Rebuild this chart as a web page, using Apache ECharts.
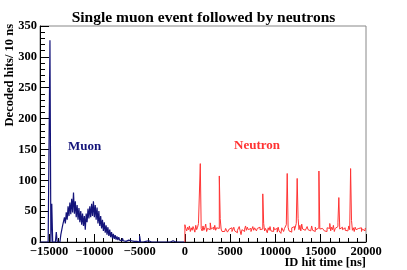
<!DOCTYPE html>
<html>
<head>
<meta charset="utf-8">
<script src="https://cdn.jsdelivr.net/npm/echarts@6/dist/echarts.min.js"></script>
<style>html,body{margin:0;padding:0;background:#fff}#c{width:407px;height:270px}</style>
</head>
<body>
<div id="c"></div>
<script>
// Histogram settings
var binWidth = 100; // ns per drawn bin
var muonStart = -16000;
var neutronStart = 0;

// Muon histogram (counts per bin, from -16000 ns)
var muonCounts = [
  0,0,0,0,0,0,0,0,0,0,
  0,327,0,62,0,0,0,0,16,0,
  0,0,3,12,14,27,25,40,30,48,
  36,58,42,64,45,70,48,80,46,66,
  40,60,36,55,32,50,28,46,26,42,
  20,46,32,54,38,58,40,62,42,66,
  40,60,36,56,30,50,26,42,22,36,
  18,32,15,27,12,24,10,20,8,16,
  6,13,5,11,4,9,3,8,3,6,
  2,6,2,5,1,4,1,3,1,2,
  2,1,2,1,0,2,1,0,1,0,
  10,0,1,0,2,0,1,0,0,2,
  0,1,0,0,3,0,0,1,0,0,
  0,0,2,0,0,0,1,0,0,0,
  0,3,0,0,0,0,2,0,0,0,
  0,0,0,1,0,0,0,0,0,0
];

// Neutron histogram (counts per bin, from 0 ns)
var neutronCounts = [
  28,22,18,24,20,26,17,23,19,25,
  21,16,27,20,24,30,32,127,22,18,
  26,19,23,29,17,22,25,20,31,21,
  18,24,20,27,19,23,26,22,107,38,
  21,17,17,17,19,22,20,16,18,21,
  19,23,17,20,24,18,21,15,19,22,
  25,18,12,20,23,17,21,26,19,24,
  20,18,22,17,21,25,19,23,20,18,
  22,19,24,20,17,21,78,30,18,22,
  20,15,23,19,25,18,21,17,24,20,
  19,22,16,24,18,21,14,23,20,17,
  22,19,28,111,24,18,21,16,23,20,
  25,19,22,30,103,38,20,27,18,29,
  21,24,19,22,17,25,20,23,18,21,
  26,19,22,17,24,20,18,23,115,21,
  19,22,20,25,18,21,17,23,20,22,
  30,18,24,20,27,17,22,19,25,32,
  72,21,18,24,20,17,23,19,22,18,
  21,26,20,119,35,19,23,17,24,20,
  18,22,25,19,23,17,21,24,18,22
];

// Axis
var xMin = -16000, xMax = 20000;
var yMin = 0, yMax = 350;
var xTickLabels = [-15000, -10000, -5000, 0, 5000, 10000, 15000, 20000];

function toSteps(start, counts, lead) {
  var pts = [];
  if (lead) pts.push([start, 0]);
  for (var i = 0; i < counts.length; i++) pts.push([start + i * binWidth, counts[i]]);
  pts.push([start + counts.length * binWidth, counts[counts.length - 1]]);
  return pts;
}

var serif = 'Liberation Serif';
var chart = echarts.init(document.getElementById('c'), null, {renderer: 'canvas'});
chart.setOption({
  animation: false,
  backgroundColor: '#fff',
  title: {
    text: 'Single muon event followed by neutrons',
    left: 'center', top: 5,
    textStyle: {fontFamily: serif, fontWeight: 'bold', fontSize: 15.5, color: '#000'}
  },
  grid: {left: 40, top: 26, right: 41, bottom: 28, show: true, borderColor: '#888', borderWidth: 1, backgroundColor: 'transparent'},
  xAxis: [{
    type: 'value', min: xMin, max: xMax, interval: 1000,
    axisLine: {show: true, onZero: false, lineStyle: {color: '#000', width: 1}},
    axisTick: {show: true, inside: true, length: 4, lineStyle: {color: '#000'}},
    axisLabel: {show: false},
    splitLine: {show: false}
  }, {
    type: 'value', min: xMin, max: xMax, position: 'bottom',
    axisLine: {show: false, onZero: false},
    axisTick: {show: true, inside: true, length: 8, customValues: xTickLabels, lineStyle: {color: '#000'}},
    axisLabel: {show: true, customValues: xTickLabels, margin: 3,
      fontFamily: serif, fontWeight: 'bold', fontSize: 12.5, color: '#000',
      formatter: function (v) { return (v < 0 ? '\u2212' + (-v) : '' + v); }},
    splitLine: {show: false}
  }],
  yAxis: {
    type: 'value', min: yMin, max: yMax, interval: 50,
    axisLine: {show: true, onZero: false, lineStyle: {color: '#000', width: 1}},
    axisTick: {show: true, inside: true, length: 9, lineStyle: {color: '#000'}},
    minorTick: {show: true, splitNumber: 5, length: 5, lineStyle: {color: '#000'}},
    axisLabel: {margin: 3, fontFamily: serif, fontWeight: 'bold', fontSize: 12.5, color: '#000'},
    splitLine: {show: false}
  },
  graphic: [
    {type: 'text', x: 10, y: 24, rotation: Math.PI / 2,
      style: {text: 'Decoded hits/ 10 ns', fontFamily: serif, fontWeight: 'bold', fontSize: 12.5, fill: '#000', textAlign: 'right', textVerticalAlign: 'middle'}},
    {type: 'text', x: 366, y: 263,
      style: {text: 'ID hit time [ns]', fontFamily: serif, fontWeight: 'bold', fontSize: 12.5, fill: '#000', textAlign: 'right', textVerticalAlign: 'middle'}},
    {type: 'text', x: 68, y: 147,
      style: {text: 'Muon', fontFamily: serif, fontWeight: 'bold', fontSize: 13, fill: '#14147a', textAlign: 'left', textVerticalAlign: 'middle'}},
    {type: 'text', x: 234, y: 146,
      style: {text: 'Neutron', fontFamily: serif, fontWeight: 'bold', fontSize: 13, fill: '#ff3333', textAlign: 'left', textVerticalAlign: 'middle'}}
  ],
  series: [{
    type: 'line', name: 'Muon', xAxisIndex: 0, step: 'end', symbol: 'none',
    data: toSteps(muonStart, muonCounts, false),
    lineStyle: {color: '#14147a', width: 1.2}
  }, {
    type: 'line', name: 'Neutron', xAxisIndex: 0, step: 'end', symbol: 'none',
    data: toSteps(neutronStart, neutronCounts, true),
    lineStyle: {color: '#ff3333', width: 1}
  }]
});
</script>
</body>
</html>
